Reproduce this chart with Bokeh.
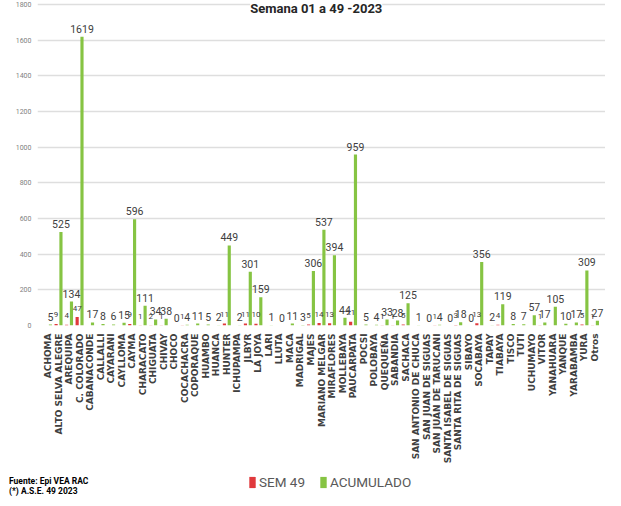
import math
from bokeh.plotting import figure
from bokeh.layouts import column, row
from bokeh.models import (ColumnDataSource, FactorRange, Range1d, Legend, LegendItem,
                          Label, Div)
from bokeh.transform import dodge
from bokeh.core.properties import value
from bokeh.embed import file_html
from bokeh.resources import INLINE

categories = [
    "ACHOMA", "ALTO SELVA ALEGRE", "AREQUIPA", "C. COLORADO", "CABANACONDE",
    "CALLALLI", "CAYARANI", "CAYLLOMA", "CAYMA", "CHARACATO", "CHIGUATA",
    "CHIVAY", "CHOCO", "COCACHACRA", "COPORAQUE", "HUAMBO", "HUANCA", "HUNTER",
    "ICHUPAMPA", "JLBYR", "LA JOYA", "LARI", "LLUTA", "MACA", "MADRIGAL",
    "MAJES", "MARIANO MELGAR", "MIRAFLORES", "MOLLEBAYA", "PAUCARPATA", "POCSI",
    "POLOBAYA", "QUEQUEÑA", "SABANDIA", "SACHACA", "SAN ANTONIO DE CHUCA",
    "SAN JUAN DE SIGUAS", "SAN JUAN DE TARUCANI", "SANTA ISABEL DE SIGUAS",
    "SANTA RITA DE SIGUAS", "SIBAYO", "SOCABAYA", "TAPAY", "TIABAYA", "TISCO",
    "TUTI", "UCHUMAYO", "VITOR", "YANAHUARA", "YANQUE", "YARABAMBA", "YURA",
    "Otros",
]
sem49 = [0, 9, 4, 47, 0, 0, 0, 0, 9, 1, 2, 1, 0, 1, 0, 0, 0, 11, 0, 11, 10, 0,
         0, 0, 0, 5, 14, 13, 0, 21, 0, 0, 1, 1, 5, 0, 0, 1, 0, 3, 0, 13, 0, 4,
         0, 0, 0, 1, 0, 0, 0, 5, 1]
acumulado = [5, 525, 134, 1619, 17, 8, 6, 15, 596, 111, 34, 38, 0, 4, 11, 5, 2,
             449, 2, 301, 159, 1, 0, 11, 3, 306, 537, 394, 44, 959, 5, 4, 33,
             28, 125, 1, 0, 4, 0, 18, 0, 356, 2, 119, 8, 7, 57, 17, 105, 10, 17,
             309, 27]
y_ticks = [0, 200, 400, 600, 800, 1000, 1200, 1400, 1600, 1800]
series_names = ["SEM 49", "ACUMULADO"]
title_text = "Semana 01 a 49 -2023"
source_lines = ["Fuente: Epi VEA RAC", "(*) A.S.E. 49 2023"]

RED = "#e0393c"
GREEN = "#86c443"
SANS = "Roboto"

src = ColumnDataSource(dict(
    cat=categories,
    sem=sem49,
    acu=acumulado,
    sem_lbl=[str(v) if v > 0 else "" for v in sem49],
    acu_lbl=[str(v) for v in acumulado],
))

W = 605
p = figure(
    x_range=FactorRange(factors=categories, range_padding=0.5,
                        range_padding_units="absolute"),
    y_range=Range1d(0, 1823),
    width=W, height=466,
    output_backend="svg", toolbar_location=None,
    min_border_left=0, min_border_right=0,
    min_border_top=0, min_border_bottom=0,
)
p.outline_line_color = None
p.xgrid.grid_line_color = None
p.ygrid.grid_line_color = "#dedede"
p.ygrid.grid_line_width = 1.5

r_sem = p.vbar(x=dodge("cat", -0.23, range=p.x_range), top="sem", width=0.3,
               source=src, fill_color=RED, line_color=None)
r_acu = p.vbar(x=dodge("cat", 0.23, range=p.x_range), top="acu", width=0.3,
               source=src, fill_color=GREEN, line_color=None)

p.text(x=dodge("cat", 0.23, range=p.x_range), y="acu", text="acu_lbl", source=src,
       text_font=value(SANS), text_font_size="10.5px", text_color="#404040",
       text_align="center", text_baseline="alphabetic", y_offset=-8)
p.text(x=dodge("cat", -0.23, range=p.x_range), y="sem", text="sem_lbl", source=src,
       text_font=value(SANS), text_font_size="8px", text_color="#404040",
       text_align="center", text_baseline="alphabetic", y_offset=-9)

p.yaxis.ticker = y_ticks
p.yaxis.axis_line_color = None
p.yaxis.major_tick_line_color = None
p.yaxis.major_tick_out = 0
p.yaxis.major_tick_in = 0
p.yaxis.minor_tick_line_color = None
p.yaxis.minor_tick_out = 0
p.yaxis.major_label_text_font = SANS
p.yaxis.major_label_text_font_size = "7px"
p.yaxis.major_label_text_color = "#7f7f7f"
p.yaxis.major_label_standoff = 6
# blank axis label keeps a small gap between the page edge and the tick labels
p.yaxis.axis_label = " "
p.yaxis.axis_label_text_font_size = "7px"
p.yaxis.axis_label_standoff = 2

p.xaxis.axis_line_color = None
p.xaxis.major_tick_line_color = None
p.xaxis.major_tick_out = 0
p.xaxis.major_tick_in = 0
p.xaxis.major_label_orientation = math.pi / 2
p.xaxis.major_label_text_font = "DejaVu Sans"
p.xaxis.major_label_text_font_style = "bold"
p.xaxis.major_label_text_font_size = "9px"
p.xaxis.major_label_text_color = "#404040"
p.xaxis.major_label_standoff = 8

p.add_layout(Label(x=26.0, y=1823, text=title_text,
                   text_font=SANS, text_font_style="bold", text_font_size="13px",
                   text_color="#262626", text_align="center", text_baseline="top",
                   background_fill_color="white"))

# footer: source notes (left) and legend (centre)
notes = Div(
    text=source_lines[0] + "<br>" + source_lines[1],
    width=230, height=24,
    styles={"font-family": "Roboto", "font-weight": "bold", "font-size": "8.5px",
            "line-height": "10px", "color": "#000000", "padding-left": "4px",
            "padding-top": "5px", "box-sizing": "border-box"},
)

f = figure(width=W - 230, height=24, x_range=Range1d(0, W - 230), y_range=Range1d(0, 24),
           output_backend="svg", toolbar_location=None,
           min_border_left=0, min_border_right=0, min_border_top=0, min_border_bottom=0,
           x_axis_type=None, y_axis_type=None)
f.outline_line_color = None
f.grid.grid_line_color = None
leg_sem = f.vbar(x=[0], top=[0], width=0.1, fill_color=RED, line_color=None)
leg_acu = f.vbar(x=[0], top=[0], width=0.1, fill_color=GREEN, line_color=None)
legend = Legend(
    items=[LegendItem(label=series_names[0], renderers=[leg_sem]),
           LegendItem(label=series_names[1], renderers=[leg_acu])],
    location=(8, 0), orientation="horizontal",
    glyph_width=8, glyph_height=14, label_standoff=3, spacing=14,
    padding=0, margin=0, border_line_color=None, background_fill_alpha=0,
    label_text_font=SANS, label_text_font_size="13.5px", label_text_color="#595959",
)
f.add_layout(legend)

layout = column(p, row(notes, f, spacing=0), spacing=0)
layout.styles = {"box-shadow": "-2px 0 0 #35c85a"}
open("out.html", "w").write(file_html(layout, INLINE))
